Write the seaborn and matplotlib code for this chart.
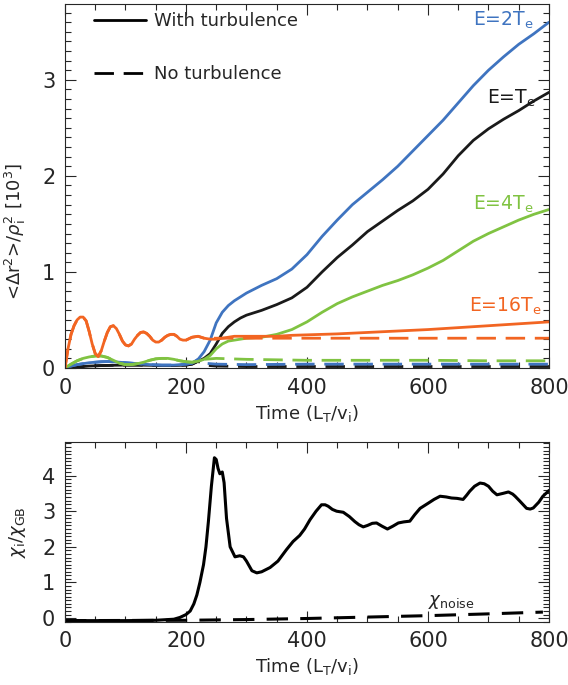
import numpy as np
import pandas as pd
import seaborn as sns
from matplotlib import pyplot as plt
from matplotlib.lines import Line2D
from matplotlib.ticker import MultipleLocator

# ---- top panel: <dr^2>/rho_i^2 [10^3] vs time ----
t_blk = [0, 10, 20, 40, 60, 80, 100, 120, 140, 160, 180, 200, 210, 220,
         230, 240, 250, 260, 270, 280, 290, 300, 325, 350, 375, 400, 425,
         450, 475, 500, 525, 550, 575, 600, 625, 650, 675, 700, 725, 750,
         775, 800]
v_blk = [0, 0.005, 0.01, 0.02, 0.025, 0.028, 0.03, 0.03, 0.028, 0.025,
         0.025, 0.03, 0.04, 0.07, 0.10, 0.15, 0.25, 0.36, 0.43, 0.48, 0.52,
         0.55, 0.60, 0.66, 0.73, 0.84, 1.00, 1.15, 1.28, 1.42, 1.53, 1.64,
         1.74, 1.86, 2.02, 2.21, 2.37, 2.49, 2.59, 2.68, 2.78, 2.87]

t_blu = [0, 10, 20, 30, 40, 50, 60, 70, 80, 90, 100, 120, 140, 160, 180,
         200, 210, 220, 230, 240, 250, 260, 270, 280, 290, 300, 325, 350,
         375, 400, 425, 450, 475, 500, 525, 550, 575, 600, 625, 650, 675,
         700, 725, 750, 775, 800]
v_blu = [0, 0.02, 0.035, 0.045, 0.055, 0.06, 0.065, 0.067, 0.065, 0.06,
         0.055, 0.045, 0.035, 0.03, 0.03, 0.04, 0.05, 0.09, 0.17, 0.29, 0.47,
         0.58, 0.65, 0.70, 0.74, 0.78, 0.86, 0.93, 1.03, 1.18, 1.37, 1.54,
         1.70, 1.83, 1.96, 2.10, 2.26, 2.42, 2.58, 2.76, 2.94, 3.10, 3.24,
         3.37, 3.48, 3.60]

t_grn = [0, 10, 20, 30, 40, 50, 60, 70, 80, 90, 100, 110, 120, 130, 140,
         150, 160, 170, 180, 190, 200, 210, 220, 230, 240, 250, 260, 270,
         280, 290, 300, 325, 350, 375, 400, 425, 450, 475, 500, 525, 550,
         575, 600, 625, 650, 675, 700, 725, 750, 775, 800]
v_grn = [0, 0.04, 0.075, 0.10, 0.115, 0.125, 0.125, 0.11, 0.08, 0.05,
         0.035, 0.035, 0.045, 0.06, 0.08, 0.095, 0.10, 0.10, 0.09, 0.075,
         0.065, 0.06, 0.07, 0.09, 0.13, 0.20, 0.25, 0.28, 0.29, 0.30, 0.31,
         0.32, 0.35, 0.40, 0.48, 0.58, 0.67, 0.74, 0.80, 0.86, 0.91, 0.97,
         1.04, 1.12, 1.22, 1.32, 1.40, 1.47, 1.54, 1.60, 1.65]

t_org = [0, 5, 10, 15, 20, 25, 30, 35, 40, 45, 50, 55, 60, 65, 70, 75, 80,
         85, 90, 95, 100, 105, 110, 115, 120, 125, 130, 135, 140, 145, 150,
         155, 160, 165, 170, 175, 180, 185, 190, 195, 200, 210, 220, 230,
         240, 250, 260, 270, 280, 290, 300, 325, 350, 375, 400, 450, 500,
         550, 600, 650, 700, 750, 800]
v_org = [0, 0.20, 0.35, 0.44, 0.50, 0.53, 0.53, 0.49, 0.38, 0.25, 0.15,
         0.12, 0.18, 0.28, 0.37, 0.43, 0.44, 0.41, 0.35, 0.28, 0.24, 0.23,
         0.25, 0.30, 0.34, 0.37, 0.375, 0.36, 0.33, 0.29, 0.27, 0.27, 0.29,
         0.32, 0.34, 0.35, 0.35, 0.33, 0.30, 0.29, 0.29, 0.32, 0.33, 0.31,
         0.30, 0.30, 0.31, 0.32, 0.33, 0.33, 0.33, 0.33, 0.33, 0.34, 0.345,
         0.355, 0.37, 0.385, 0.40, 0.42, 0.44, 0.46, 0.48]

# no-turbulence runs: identical to the turbulent ones before t~220, then flat
t_late = [230, 250, 300, 400, 500, 600, 700, 800]
nt_blk = [0.03, 0.02, 0.015, 0.015, 0.015, 0.015, 0.015, 0.015]
nt_blu = [0.05, 0.04, 0.035, 0.04, 0.04, 0.04, 0.04, 0.04]
nt_grn = [0.09, 0.10, 0.09, 0.08, 0.08, 0.08, 0.075, 0.075]
nt_org = [0.31, 0.31, 0.31, 0.31, 0.31, 0.31, 0.31, 0.31]

energies = ["E=T$_\\mathregular{e}$", "E=2T$_\\mathregular{e}$",
            "E=4T$_\\mathregular{e}$", "E=16T$_\\mathregular{e}$"]
colors = ["#1a1a1a", "#3f74c0", "#80c342", "#f26522"]
label_t = [778, 775, 775, 788]
label_y = [2.81, 3.62, 1.70, 0.64]

# ---- bottom panel: chi_i / chi_GB ----
chi_t = [0, 100, 150, 180, 190, 200, 207, 213, 218, 223, 229, 233, 237, 242,
         247, 250, 253, 256, 260, 263, 267, 273, 281, 289, 295, 300, 309, 317,
         325, 339, 352, 366, 377, 388, 396, 405, 415, 424, 430, 435, 442, 449,
         460, 470, 479, 486, 493, 500, 508, 515, 524, 533, 542, 551, 560, 570,
         578, 587, 600, 610, 620, 630, 639, 648, 658, 664, 669, 677, 686, 693,
         700, 707, 714, 724, 733, 740, 744, 752, 763, 769, 774, 783, 790, 800]
chi_v = [-0.07, -0.07, -0.06, -0.03, 0.02, 0.10, 0.20, 0.40, 0.65, 1.0, 1.5,
         2.0, 2.7, 3.7, 4.5, 4.45, 4.2, 4.05, 4.1, 3.8, 2.8, 2.0, 1.72, 1.75,
         1.72, 1.60, 1.33, 1.27, 1.30, 1.42, 1.60, 1.92, 2.15, 2.32, 2.50,
         2.76, 3.0, 3.18, 3.18, 3.14, 3.05, 3.0, 2.97, 2.85, 2.71, 2.62, 2.56,
         2.60, 2.66, 2.67, 2.58, 2.50, 2.58, 2.67, 2.70, 2.72, 2.90, 3.08,
         3.22, 3.33, 3.42, 3.40, 3.37, 3.36, 3.33, 3.45, 3.56, 3.70, 3.79,
         3.77, 3.70, 3.56, 3.46, 3.50, 3.54, 3.48, 3.42, 3.28, 3.08, 3.06,
         3.09, 3.25, 3.42, 3.58]
noise_t = [0, 200, 300, 400, 500, 600, 700, 790]
noise_v = [-0.07, -0.06, -0.04, -0.01, 0.03, 0.07, 0.12, 0.17]

# long-form table for the top panel
rows = []
solid = [(t_blk, v_blk), (t_blu, v_blu), (t_grn, v_grn), (t_org, v_org)]
late = [nt_blk, nt_blu, nt_grn, nt_org]
for name, (tt, vv), nl in zip(energies, solid, late):
    for a, b in zip(tt, vv):
        rows.append((a, b, name, "With turbulence"))
    for a, b in zip(tt, vv):
        if a <= 220:
            rows.append((a, b, name, "No turbulence"))
    for a, b in zip(t_late, nl):
        rows.append((a, b, name, "No turbulence"))
df = pd.DataFrame(rows, columns=["t", "value", "energy", "case"])

sns.set_style("ticks")
plt.rcParams["font.family"] = ["DejaVu Sans"]
plt.rcParams["mathtext.fontset"] = "dejavusans"

fig = plt.figure(figsize=(5.68, 6.85), dpi=100)
ax1 = fig.add_axes([0.1144, 0.4628, 0.8521, 0.5314])
ax2 = fig.add_axes([0.1144, 0.0924, 0.8521, 0.2628])

dash = (7, 3.5)
sns.lineplot(data=df, x="t", y="value", hue="energy", style="case",
             hue_order=energies, palette=dict(zip(energies, colors)),
             style_order=["No turbulence", "With turbulence"],
             dashes={"With turbulence": "", "No turbulence": dash},
             estimator=None, linewidth=2, legend=False, ax=ax1)

for name, c, x, y in zip(energies, colors, label_t, label_y):
    ax1.text(x, y, name, color=c, fontsize=13.5, ha="right", va="center")

handles = [Line2D([], [], color="k", lw=2),
           Line2D([], [], color="k", lw=2, dashes=dash)]
ax1.legend(handles, ["With turbulence", "No turbulence"], loc="upper left",
           bbox_to_anchor=(0.06, 0.978), frameon=False, fontsize=13,
           handlelength=2.9, handletextpad=0.4, labelspacing=1.95,
           borderpad=0, borderaxespad=0)

ax1.set_xlim(0, 800)
ax1.set_ylim(0, 3.79)
ax1.xaxis.set_major_locator(MultipleLocator(200))
ax1.xaxis.set_minor_locator(MultipleLocator(50))
ax1.yaxis.set_major_locator(MultipleLocator(1))
ax1.yaxis.set_minor_locator(MultipleLocator(0.1))
ax1.set_xlabel("Time (L$_\\mathregular{T}$/v$_\\mathregular{i}$)", fontsize=13)
ax1.set_ylabel("<$\\Delta$r$^\\mathregular{2}$>/$\\rho_\\mathregular{i}^\\mathregular{2}$ [10$^\\mathregular{3}$]",
               fontsize=13)
ax1.xaxis.set_label_coords(0.5, -0.095)
ax1.yaxis.set_label_coords(-0.076, 0.376)

sns.lineplot(x=chi_t, y=chi_v, color="k", linewidth=2.2, ax=ax2)
sns.lineplot(x=noise_t, y=noise_v, color="k", linewidth=2.2, ax=ax2)
ax2.lines[-1].set_dashes((7, 4))
ax2.text(600, 0.45, "$\\chi_\\mathregular{noise}$", fontsize=13, ha="left",
         va="center")

ax2.set_xlim(0, 800)
ax2.set_ylim(-0.1, 4.95)
ax2.xaxis.set_major_locator(MultipleLocator(200))
ax2.xaxis.set_minor_locator(MultipleLocator(50))
ax2.yaxis.set_major_locator(MultipleLocator(1))
ax2.yaxis.set_minor_locator(MultipleLocator(0.1))
ax2.set_xlabel("Time (L$_\\mathregular{T}$/v$_\\mathregular{i}$)", fontsize=13)
ax2.set_ylabel("$\\chi_\\mathregular{i}/\\chi_\\mathregular{GB}$", fontsize=13)
ax2.xaxis.set_label_coords(0.5, -0.19)
ax2.yaxis.set_label_coords(-0.076, 0.5)

for ax in (ax1, ax2):
    ax.tick_params(which="both", direction="in", top=True, right=True,
                   width=0.8, labelsize=15, pad=7)
    ax.tick_params(which="major", length=8)
    ax.tick_params(which="minor", length=4)
    for s in ax.spines.values():
        s.set_linewidth(0.8)

fig.savefig("out.png", dpi=100)
